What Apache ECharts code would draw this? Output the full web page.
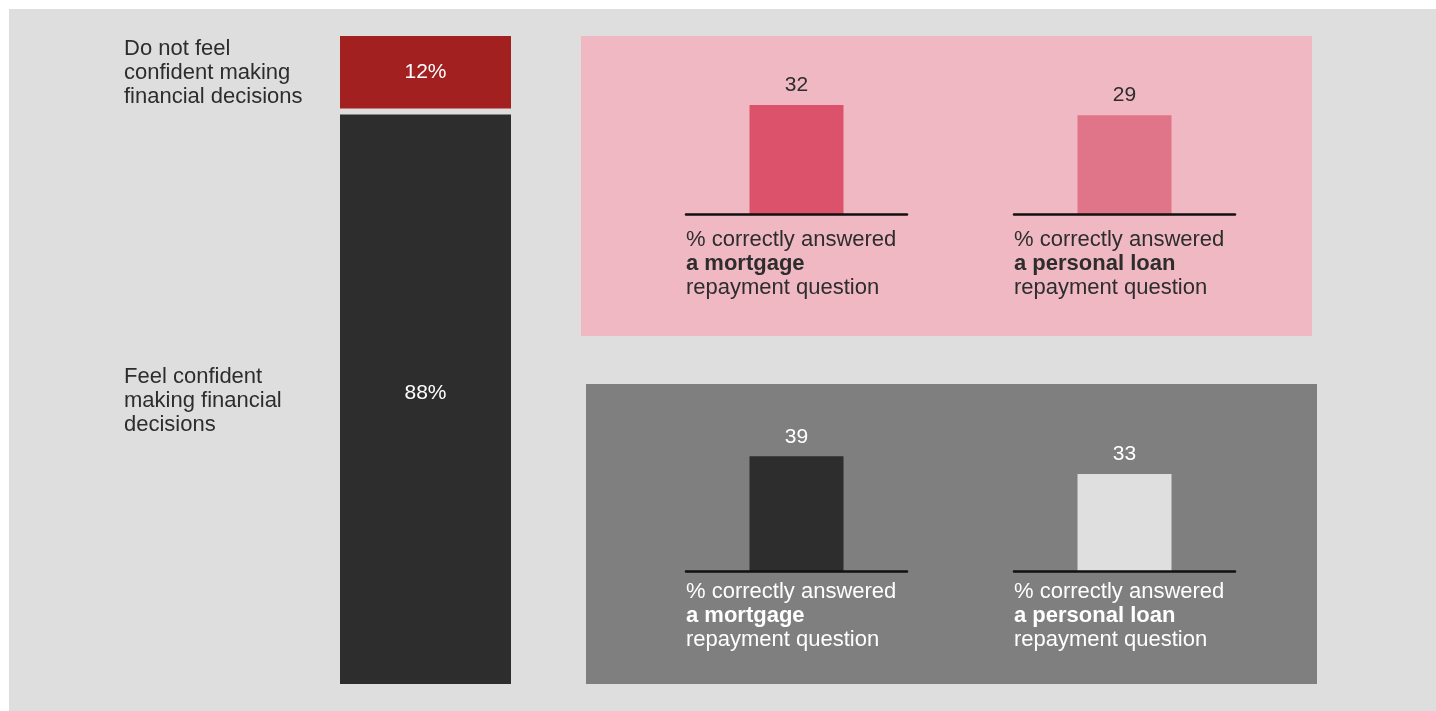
<!DOCTYPE html>
<html>
<head>
<meta charset="utf-8">
<script src="https://cdn.jsdelivr.net/npm/echarts@6/dist/echarts.min.js"></script>
<style>
  html, body { margin: 0; padding: 0; background: #ffffff; }
  #chart { width: 1436px; height: 711px; }
</style>
</head>
<body>
<div id="chart"></div>
<script>
// Share of respondents by confidence in their financial decisions
const confidenceGroups = ['Do not feel\nconfident making\nfinancial decisions', 'Feel confident\nmaking financial\ndecisions'];
const confidenceShares = [12, 88];

// % answering each repayment question correctly, by group
const loanQuestions = ['a mortgage', 'a personal loan'];
const notConfidentCorrect = [32, 29];
const confidentCorrect = [39, 33];

const FONT = "'Liberation Sans', Arial, Helvetica, sans-serif";
const BG = '#dedede';
const DARK = '#2d2d2d';

const chart = echarts.init(document.getElementById('chart'), null, { renderer: 'canvas' });

const grids = [];
const xAxes = [];
const yAxes = [];
const series = [];
const graphics = [];

// page backdrop and the two panels
graphics.push({ type: 'rect', z: -30, shape: { x: 9, y: 9, width: 1427, height: 702 }, style: { fill: BG } });
graphics.push({ type: 'rect', z: -20, shape: { x: 581, y: 36, width: 731, height: 300 }, style: { fill: '#f0b8c2' } });
graphics.push({ type: 'rect', z: -20, shape: { x: 586, y: 384, width: 731, height: 300 }, style: { fill: '#7f7f7f' } });

// left stacked bar: 100% split by confidence
grids.push({ left: 337, top: 33, width: 177, height: 654 });
xAxes.push({ type: 'category', gridIndex: 0, data: ['all'], show: false });
yAxes.push({ type: 'value', gridIndex: 0, min: 0, max: 100, show: false });
const stackColors = ['#a32021', DARK];
// bottom of stack first (confident), then not confident on top
[1, 0].forEach(function (i) {
  series.push({
    type: 'bar',
    xAxisIndex: 0,
    yAxisIndex: 0,
    stack: 'share',
    barWidth: 177,
    data: [confidenceShares[i]],
    itemStyle: { color: stackColors[i], borderColor: BG, borderWidth: 3 },
    label: {
      show: true,
      position: 'inside',
      offset: i === 1 ? [0, -6] : [0, 0],
      formatter: function (p) { return p.value + '%'; },
      color: '#ffffff',
      fontFamily: FONT,
      fontSize: 21
    },
    silent: true
  });
});

// group labels left of the bar
const groupLabelTops = [37, 365];
confidenceGroups.forEach(function (txt, i) {
  graphics.push({
    type: 'text',
    left: 124,
    top: groupLabelTops[i],
    style: { text: txt, font: '22px ' + FONT, fill: DARK, lineHeight: 24 }
  });
});

// small bar panels
const panels = [
  { values: notConfidentCorrect, baseline: 214, max: 44, colors: ['#db526a', '#e07488'], text: DARK, labelTop: 229 },
  { values: confidentCorrect, baseline: 571, max: 51, colors: [DARK, '#dfdfdf'], text: '#ffffff', labelTop: 581 }
];
const colLefts = [686, 1014];
const plotH = 150;

panels.forEach(function (panel) {
  panel.values.forEach(function (v, j) {
    const gi = grids.length;
    grids.push({ left: colLefts[j], top: panel.baseline - plotH, width: 221, height: plotH });
    xAxes.push({
      type: 'category',
      gridIndex: gi,
      data: [loanQuestions[j]],
      axisLine: { show: true, lineStyle: { color: '#111111', width: 2.5 } },
      axisTick: { show: false },
      axisLabel: { show: false },
      z: 5
    });
    yAxes.push({ type: 'value', gridIndex: gi, min: 0, max: panel.max, show: false });
    series.push({
      type: 'bar',
      xAxisIndex: gi,
      yAxisIndex: gi,
      barWidth: 94,
      data: [v],
      itemStyle: { color: panel.colors[j] },
      label: {
        show: true,
        position: 'top',
        distance: 9,
        color: panel.text,
        fontFamily: FONT,
        fontSize: 21
      },
      silent: true
    });
    graphics.push({
      type: 'text',
      left: colLefts[j],
      top: panel.labelTop,
      style: {
        text: '{n|% correctly answered}\n{b|' + loanQuestions[j] + '}\n{n|repayment question}',
        rich: {
          n: { font: '22px ' + FONT, fill: panel.text, lineHeight: 24 },
          b: { font: 'bold 22px ' + FONT, fill: panel.text, lineHeight: 24 }
        }
      }
    });
  });
});

chart.setOption({
  backgroundColor: '#ffffff',
  animation: false,
  grid: grids,
  xAxis: xAxes,
  yAxis: yAxes,
  series: series,
  graphic: { elements: graphics }
});
</script>
</body>
</html>
